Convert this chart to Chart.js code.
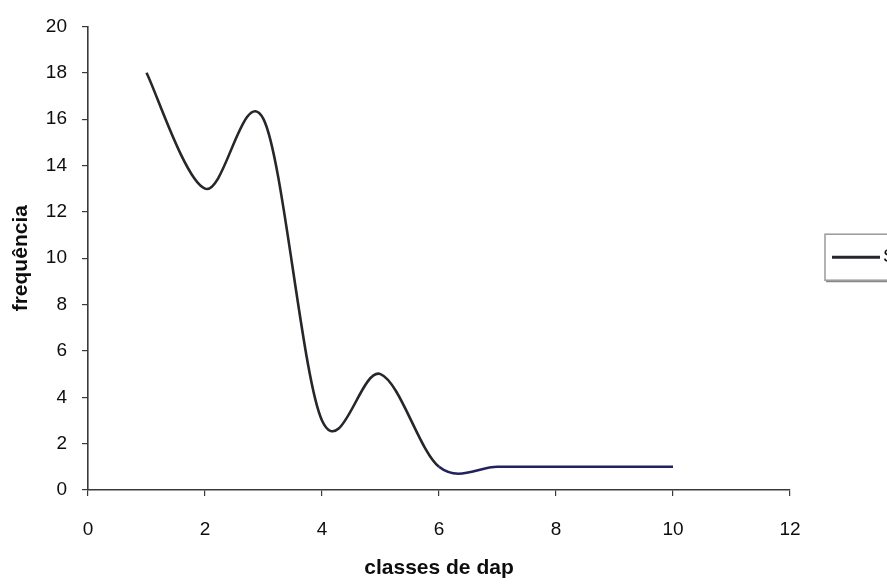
<!DOCTYPE html>
<html>
<head>
<meta charset="utf-8">
<title>frequência por classes de dap</title>
<script src="https://cdn.jsdelivr.net/npm/chart.js@4.4.1/dist/chart.umd.min.js"></script>
<style>
  html, body { margin: 0; padding: 0; background: #ffffff; overflow: hidden; }
  #wrap { position: relative; width: 887px; height: 585px; }
</style>
</head>
<body>
<div id="wrap"><canvas id="chart"></canvas></div>
<script>
// Diameter classes and the number of trees counted in each one
const classes = [1, 2, 3, 4, 5, 6, 7, 8, 9, 10];
const frequencia = [18, 13, 16, 3, 5, 1, 1, 1, 1, 1];
const seriesName = 'Seqüência1';

// Tick values on both axes
const xTickValues = [0, 2, 4, 6, 8, 10, 12];
const yTickValues = [0, 2, 4, 6, 8, 10, 12, 14, 16, 18, 20];

const FONT = '"Liberation Sans", Arial, sans-serif';
const LINE_DARK = '#26262b';
const LINE_NAVY = '#22225a';
const TEXT = '#0d0d0d';

// Spreadsheet-style smoothing: uniform Catmull-Rom control points
// taken from the points the scales have already placed.
const smoothLine = {
  id: 'smoothLine',
  beforeDatasetDraw(chart, args) {
    const meta = args.meta;
    const line = meta.dataset;
    const pts = meta.data;
    if (!line || pts.length < 2) return;
    for (let i = 0; i < pts.length; i++) {
      const p = pts[i];
      const prev = pts[Math.max(i - 1, 0)];
      const next = pts[Math.min(i + 1, pts.length - 1)];
      const dx = (next.x - prev.x) / 6;
      const dy = (next.y - prev.y) / 6;
      p.cp1x = p.x - dx; p.cp1y = p.y - dy;
      p.cp2x = p.x + dx; p.cp2y = p.y + dy;
    }
    line._pointsUpdated = true;
    line._path = undefined;
  }
};

// Boxed legend to the right of the plot
const boxedLegend = {
  id: 'boxedLegend',
  afterDraw(chart) {
    const ctx = chart.ctx;
    const area = chart.chartArea;
    const ds = chart.data.datasets[0];
    const left = area.right + 35;
    const top = (area.top + area.bottom) / 2 - 24;
    const h = 46;
    const w = 120;
    ctx.save();
    ctx.strokeStyle = '#9a9a9a';
    ctx.lineWidth = 1.5;
    ctx.strokeRect(left, top, w, h);
    ctx.strokeStyle = '#6a6a6a';
    ctx.lineWidth = 1;
    ctx.beginPath();
    ctx.moveTo(left + 1, top + h + 1.5);
    ctx.lineTo(left + w, top + h + 1.5);
    ctx.stroke();
    ctx.strokeStyle = LINE_DARK;
    ctx.lineWidth = 3;
    ctx.beginPath();
    ctx.moveTo(left + 7, top + h / 2);
    ctx.lineTo(left + 55, top + h / 2);
    ctx.stroke();
    ctx.fillStyle = TEXT;
    ctx.font = '19px ' + FONT;
    ctx.textBaseline = 'middle';
    ctx.fillText(ds.label, left + 58, top + h / 2);
    ctx.restore();
  }
};

const points = classes.map((c, i) => ({ x: c, y: frequencia[i] }));

new Chart(document.getElementById('chart'), {
  type: 'line',
  data: {
    datasets: [{
      label: seriesName,
      data: points,
      borderColor: LINE_DARK,
      borderWidth: 2.6,
      pointRadius: 0,
      pointHoverRadius: 0,
      fill: false,
      tension: 0.4,
      segment: {
        borderColor: ctx => (ctx.p0.parsed.y === ctx.p1.parsed.y ? LINE_NAVY : LINE_DARK)
      }
    }]
  },
  options: {
    responsive: true,
    maintainAspectRatio: false,
    animation: false,
    events: [],
    layout: { padding: { left: 0, top: 25, right: 97, bottom: 0 } },
    plugins: {
      legend: { display: false },
      tooltip: { enabled: false },
      title: { display: false }
    },
    scales: {
      x: {
        type: 'linear',
        min: xTickValues[0],
        max: xTickValues[xTickValues.length - 1],
        afterBuildTicks: s => { s.ticks = xTickValues.map(v => ({ value: v })); },
        afterFit: s => { s.height = 95; },
        border: { display: true, color: '#3a3a3a', width: 1.6 },
        grid: { display: true, drawOnChartArea: false, drawTicks: true, tickLength: 6, color: '#3a3a3a', lineWidth: 1.2 },
        ticks: { color: TEXT, padding: 22, maxRotation: 0, font: { family: FONT, size: 19 } },
        title: {
          display: true,
          text: 'classes de dap',
          color: TEXT,
          padding: { top: 0, bottom: 4 },
          font: { family: FONT, size: 21, weight: 'bold' }
        }
      },
      y: {
        type: 'linear',
        min: yTickValues[0],
        max: yTickValues[yTickValues.length - 1],
        afterBuildTicks: s => { s.ticks = yTickValues.map(v => ({ value: v })); },
        afterFit: s => { s.width = 88; },
        border: { display: true, color: '#3a3a3a', width: 1.6 },
        grid: { display: true, drawOnChartArea: false, drawTicks: true, tickLength: 6, color: '#3a3a3a', lineWidth: 1.2 },
        ticks: { color: TEXT, padding: 15, font: { family: FONT, size: 19 } },
        title: {
          display: true,
          text: 'frequência',
          color: TEXT,
          padding: { top: 9, bottom: 0 },
          font: { family: FONT, size: 21, weight: 'bold' }
        }
      }
    }
  },
  plugins: [smoothLine, boxedLegend]
});
</script>
</body>
</html>
